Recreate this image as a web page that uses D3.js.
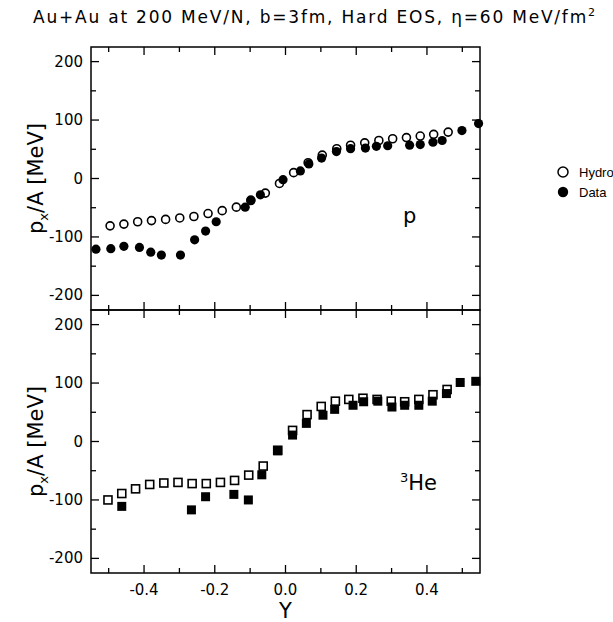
<!DOCTYPE html>
<html lang="en">
<head>
<meta charset="utf-8">
<title>Au+Au flow</title>
<script src="https://d3js.org/d3.v7.min.js"></script>
<style>
  body { margin: 0; background: #fff; }
  text { font-family: "DejaVu Sans", "Liberation Sans", sans-serif; fill: #000; }
</style>
</head>
<body>
<div id="chart"></div>
<script>
// rapidity values and px/A (MeV)
var hydroP_Y = [-0.496,-0.457,-0.418,-0.379,-0.339,-0.299,-0.259,-0.219,-0.179,-0.139,-0.098,-0.057,-0.017,0.023,0.064,0.104,0.145,0.184,0.224,0.264,0.303,0.342,0.381,0.419,0.46];
var hydroP_v = [-81,-78,-74,-72,-70,-67.5,-65,-60,-55,-49,-37,-25,-8.5,10,27,40,51,57,61,65,68,70,72.6,75.5,79.4];
var dataP_Y = [-0.536,-0.494,-0.457,-0.413,-0.381,-0.351,-0.297,-0.257,-0.226,-0.196,-0.114,-0.098,-0.071,-0.007,0.042,0.066,0.102,0.144,0.184,0.226,0.257,0.289,0.351,0.381,0.417,0.443,0.499,0.546];
var dataP_v = [-121,-120,-116,-118,-126,-131,-131,-105,-90,-74,-49,-38,-28,-2,13,25,35,46,51,52,55,56,57,58,62,65,82,94];

var hydroHe_Y = [-0.502,-0.463,-0.424,-0.384,-0.344,-0.304,-0.264,-0.224,-0.184,-0.144,-0.104,-0.063,-0.022,0.020,0.061,0.101,0.141,0.179,0.219,0.259,0.299,0.337,0.377,0.417,0.457];
var hydroHe_v = [-100,-89,-81,-73.5,-71,-70,-72,-72,-70,-66.6,-57.5,-42,-15,19,46,60,69,72,74,72,69,68,72,80,89];
var dataHe_Y = [-0.463,-0.266,-0.226,-0.146,-0.105,-0.067,-0.022,0.020,0.059,0.106,0.139,0.191,0.221,0.261,0.301,0.337,0.377,0.415,0.455,0.494,0.538];
var dataHe_v = [-111,-117,-94.5,-90.5,-100,-57,-16,11,31,45,55,62,68,69,59,62,62,69,82,101,103];

var xTicks = [-0.4, -0.2, 0.0, 0.2, 0.4];
var yTicks = [-200, -100, 0, 100, 200];

var W = 613, H = 622;
var pLeft = 91, pRight = 480, pTop = 47, pMid = 310, pBottom = 573;

var svg = d3.select("#chart").append("svg")
  .attr("width", W).attr("height", H);

var x = d3.scaleLinear().domain([-0.55, 0.55]).range([pLeft, pRight]);
var yTop = d3.scaleLinear().domain([-225, 225]).range([pMid, pTop]);
var yBot = d3.scaleLinear().domain([-225, 225]).range([pBottom, pMid]);

// title
svg.append("text")
  .attr("x", 33).attr("y", 23)
  .attr("font-size", 17)
  .attr("textLength", 562)
  .html("Au+Au at 200 MeV/N, b=3fm, Hard EOS, η=60 MeV/fm<tspan dy='-7' font-size='11'>2</tspan>");

function panel(y, hY, hV, dY, dV, square, showX) {
  var g = svg.append("g");
  var y0 = y.range()[1], y1 = y.range()[0];

  // frame
  g.append("rect")
    .attr("x", pLeft).attr("y", y0)
    .attr("width", pRight - pLeft).attr("height", y1 - y0)
    .attr("fill", "none").attr("stroke", "#000").attr("stroke-width", 1.5);

  // inward ticks
  var xMinor = d3.range(-5, 6).map(function(i){ return i / 10; });
  var yMinor = d3.range(-200, 201, 50);
  xMinor.forEach(function(t){
    var major = Math.abs(Math.round(t * 10)) % 2 === 0;
    var len = major ? 8 : 5;
    g.append("line").attr("x1", x(t)).attr("x2", x(t)).attr("y1", y1).attr("y2", y1 - len)
      .attr("stroke", "#000").attr("stroke-width", 1.3);
    g.append("line").attr("x1", x(t)).attr("x2", x(t)).attr("y1", y0).attr("y2", y0 + len)
      .attr("stroke", "#000").attr("stroke-width", 1.3);
  });
  yMinor.forEach(function(t){
    var len = (t % 100 === 0) ? 8 : 5;
    g.append("line").attr("x1", pLeft).attr("x2", pLeft + len).attr("y1", y(t)).attr("y2", y(t))
      .attr("stroke", "#000").attr("stroke-width", 1.3);
    g.append("line").attr("x1", pRight).attr("x2", pRight - len).attr("y1", y(t)).attr("y2", y(t))
      .attr("stroke", "#000").attr("stroke-width", 1.3);
  });

  // y tick labels
  g.selectAll(".yl").data(yTicks).enter().append("text")
    .attr("x", pLeft - 8).attr("y", function(d){ return y(d) + 5; })
    .attr("text-anchor", "end").attr("font-size", 15)
    .text(function(d){ return String(d); });

  // y axis title
  var cy = (y0 + y1) / 2;
  g.append("text")
    .attr("transform", "translate(43," + cy + ") rotate(-90)")
    .attr("text-anchor", "middle").attr("font-size", 21)
    .html("p<tspan dy='5' font-size='13'>x</tspan><tspan dy='-5'>/A  [MeV]</tspan>");

  if (showX) {
    g.selectAll(".xl").data(xTicks).enter().append("text")
      .attr("x", function(d){ return x(d); }).attr("y", y1 + 22)
      .attr("text-anchor", "middle").attr("font-size", 15)
      .text(function(d){ return d.toFixed(1); });
  }

  var hydro = hY.map(function(d, i){ return [d, hV[i]]; });
  var data = dY.map(function(d, i){ return [d, dV[i]]; });

  if (square) {
    g.selectAll(".h").data(hydro).enter().append("rect")
      .attr("x", function(d){ return x(d[0]) - 4; }).attr("y", function(d){ return y(d[1]) - 4; })
      .attr("width", 8).attr("height", 8)
      .attr("fill", "#fff").attr("stroke", "#000").attr("stroke-width", 1.6);
    g.selectAll(".d").data(data).enter().append("rect")
      .attr("x", function(d){ return x(d[0]) - 4.5; }).attr("y", function(d){ return y(d[1]) - 4.5; })
      .attr("width", 9).attr("height", 9)
      .attr("fill", "#000");
  } else {
    g.selectAll(".h").data(hydro).enter().append("circle")
      .attr("cx", function(d){ return x(d[0]); }).attr("cy", function(d){ return y(d[1]); })
      .attr("r", 4).attr("fill", "#fff").attr("stroke", "#000").attr("stroke-width", 1.6);
    g.selectAll(".d").data(data).enter().append("circle")
      .attr("cx", function(d){ return x(d[0]); }).attr("cy", function(d){ return y(d[1]); })
      .attr("r", 4.6).attr("fill", "#000");
  }
}

panel(yTop, hydroP_Y, hydroP_v, dataP_Y, dataP_v, false, false);
panel(yBot, hydroHe_Y, hydroHe_v, dataHe_Y, dataHe_v, true, true);

// panel labels
svg.append("text").attr("x", 403).attr("y", 223).attr("font-size", 21).text("p");
svg.append("text").attr("x", 400).attr("y", 490).attr("font-size", 21)
  .html("<tspan dy='-8' font-size='13'>3</tspan><tspan dy='8'>He</tspan>");

// x axis title
svg.append("text").attr("x", x(0)).attr("y", 618)
  .attr("text-anchor", "middle").attr("font-size", 21).text("Y");

// legend
svg.append("circle").attr("cx", 563).attr("cy", 172).attr("r", 5)
  .attr("fill", "#fff").attr("stroke", "#000").attr("stroke-width", 1.5);
svg.append("circle").attr("cx", 563).attr("cy", 192).attr("r", 5.2).attr("fill", "#000");
svg.append("text").attr("x", 579).attr("y", 177).attr("font-size", 13)
  .style("font-family", "'Liberation Sans', sans-serif").text("Hydro");
svg.append("text").attr("x", 579).attr("y", 197).attr("font-size", 13)
  .style("font-family", "'Liberation Sans', sans-serif").text("Data");
</script>
</body>
</html>
